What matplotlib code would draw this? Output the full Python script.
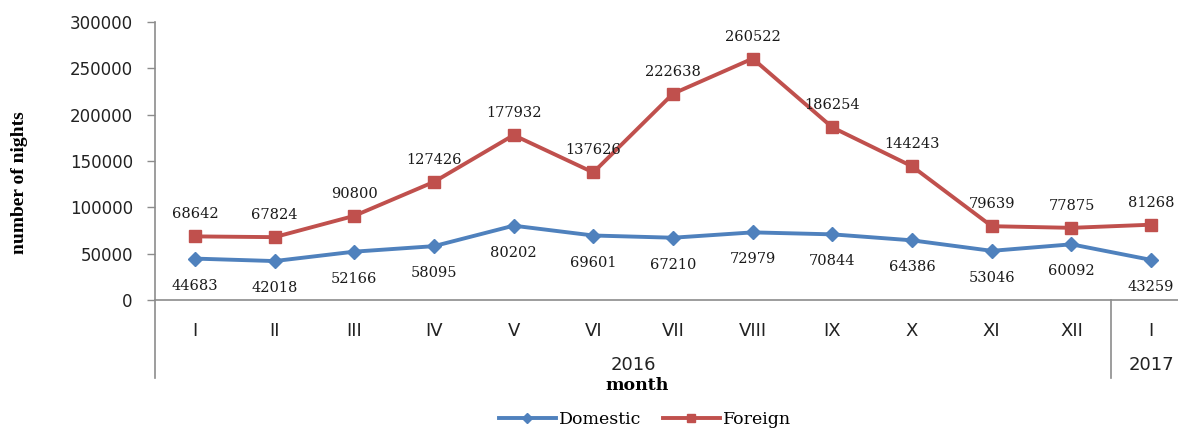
import matplotlib
matplotlib.use("Agg")
import matplotlib.pyplot as plt
from matplotlib.transforms import blended_transform_factory

# data
months = ["I", "II", "III", "IV", "V", "VI", "VII", "VIII", "IX", "X", "XI", "XII", "I"]
years = ["2016", "2017"]
year_span = [(0, 11), (12, 12)]
domestic = [44683, 42018, 52166, 58095, 80202, 69601, 67210, 72979, 70844, 64386, 53046, 60092, 43259]
foreign = [68642, 67824, 90800, 127426, 177932, 137626, 222638, 260522, 186254, 144243, 79639, 77875, 81268]

BLUE = "#4F81BD"
RED = "#C0504D"
GREY = "#8C8C8C"

W, H = 1178, 430
fig = plt.figure(figsize=(W / 100, H / 100), dpi=100)
ax = fig.add_axes([155 / W, 1 - 300 / H, (1191 - 155) / W, (300 - 22) / H])

x = list(range(len(months)))
ax.plot(x, domestic, "-D", color=BLUE, lw=2.8, ms=7.5, label="Domestic")
ax.plot(x, foreign, "-s", color=RED, lw=2.8, ms=8.5, label="Foreign")

lab_font = dict(family="DejaVu Serif", fontsize=10.5, color="#1a1a1a")
for xi, v in zip(x, foreign):
    ax.annotate(str(v), (xi, v), xytext=(0, 22), textcoords="offset pixels",
                ha="center", va="center", **lab_font)
for xi, v in zip(x, domestic):
    ax.annotate(str(v), (xi, v), xytext=(0, -27), textcoords="offset pixels",
                ha="center", va="center", **lab_font)

ax.set_xlim(-0.5, len(months) - 0.5)
ax.set_ylim(0, 300000)
ax.set_yticks(range(0, 300001, 50000))
ax.tick_params(axis="y", length=6, width=1, color=GREY, pad=10, labelsize=12,
               labelcolor="#222222")
ax.set_xticks(x)
ax.set_xticklabels(months)
ax.tick_params(axis="x", length=0, pad=16, labelsize=13, labelcolor="#222222")

for s in ["top", "right"]:
    ax.spines[s].set_visible(False)
for s in ["left", "bottom"]:
    ax.spines[s].set_color(GREY)
    ax.spines[s].set_linewidth(1.2)

# two-level category axis
tr = blended_transform_factory(ax.transData, ax.transAxes)
depth = -(378 - 300) / 278
ax.plot([-0.5, -0.5], [0, depth], color=GREY, lw=1.2, transform=tr, clip_on=False)
ax.plot([11.5, 11.5], [0, depth], color=GREY, lw=1.2, transform=tr, clip_on=False)
for yr, (a, b) in zip(years, year_span):
    ax.text((a + b) / 2, -(365 - 300) / 278, yr, transform=tr, ha="center", va="center",
            fontsize=13, color="#222222")

ax.text(5.55, -(386 - 300) / 278, "month", transform=tr, ha="center", va="center",
        family="DejaVu Serif", fontweight="bold", fontsize=12.5)
fig.text(20 / W, 1 - 183 / H, "number of nights", rotation=90, ha="center", va="center",
         family="Liberation Serif", fontweight="bold", fontsize=14)

fig.legend(loc="center", bbox_to_anchor=(645 / W, 1 - 420 / H), ncol=2, frameon=False,
           prop={"family": "DejaVu Serif", "size": 12.5}, handlelength=3.3,
           markerscale=0.65, columnspacing=1.2, handletextpad=0.2)

fig.savefig("out.png", dpi=100)
